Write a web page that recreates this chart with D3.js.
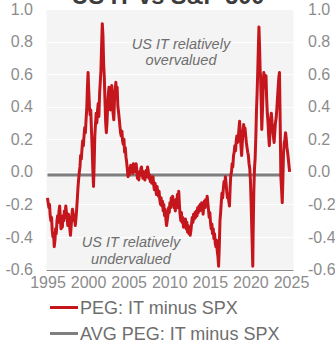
<!DOCTYPE html>
<html>
<head>
<meta charset="utf-8">
<script src="https://cdn.jsdelivr.net/npm/d3@7"></script>
<style>
  html, body { margin: 0; padding: 0; background: #fff; }
  svg { display: block; font-family: "Liberation Sans", Arial, sans-serif; }
</style>
</head>
<body>
<svg id="chart" width="335" height="349"></svg>
<script>
// PEG ratio of US IT minus PEG of the S&P 500: [fractional year, difference]
const pegPoints = [
  [1995.00,-0.16],[1995.08,-0.19],[1995.17,-0.22],[1995.25,-0.20],[1995.33,-0.27],[1995.42,-0.30],
  [1995.50,-0.28],[1995.58,-0.36],[1995.67,-0.40],[1995.75,-0.38],[1995.83,-0.46],[1995.92,-0.42],
  [1996.00,-0.35],[1996.08,-0.38],[1996.17,-0.30],[1996.25,-0.27],[1996.33,-0.31],[1996.42,-0.24],
  [1996.50,-0.21],[1996.58,-0.28],[1996.67,-0.35],[1996.75,-0.30],[1996.83,-0.34],[1996.92,-0.27],
  [1997.00,-0.30],[1997.08,-0.24],[1997.17,-0.28],[1997.25,-0.21],[1997.33,-0.25],[1997.42,-0.29],
  [1997.50,-0.33],[1997.58,-0.26],[1997.67,-0.29],[1997.75,-0.35],[1997.83,-0.39],[1997.92,-0.33],
  [1998.00,-0.27],[1998.08,-0.23],[1998.17,-0.26],[1998.25,-0.30],[1998.33,-0.27],[1998.42,-0.33],
  [1998.50,-0.29],[1998.58,-0.24],[1998.67,-0.17],[1998.75,-0.10],[1998.83,-0.05],[1998.92, 0.00],
  [1999.00, 0.03],[1999.08, 0.10],[1999.17, 0.08],[1999.25, 0.14],[1999.33, 0.19],[1999.42, 0.16],
  [1999.50, 0.22],[1999.58, 0.27],[1999.67, 0.24],[1999.75, 0.32],[1999.83, 0.38],[1999.92, 0.52],
  [2000.00, 0.61],[2000.08, 0.50],[2000.17, 0.40],[2000.25, 0.35],[2000.33, 0.38],[2000.42, 0.25],
  [2000.50, 0.15],[2000.58, 0.02],[2000.67,-0.09],[2000.75, 0.05],[2000.83, 0.22],[2000.92, 0.30],
  [2001.00, 0.36],[2001.08, 0.30],[2001.17, 0.38],[2001.25, 0.42],[2001.33, 0.34],[2001.42, 0.48],
  [2001.50, 0.55],[2001.58, 0.62],[2001.67, 0.78],[2001.75, 0.91],[2001.83, 0.84],[2001.92, 0.66],
  [2002.00, 0.58],[2002.08, 0.44],[2002.17, 0.30],[2002.25, 0.24],[2002.33, 0.30],[2002.42, 0.42],
  [2002.50, 0.48],[2002.58, 0.52],[2002.67, 0.44],[2002.75, 0.38],[2002.83, 0.47],[2002.92, 0.53],
  [2003.00, 0.45],[2003.08, 0.36],[2003.17, 0.32],[2003.25, 0.44],[2003.33, 0.50],[2003.42, 0.55],
  [2003.50, 0.48],[2003.58, 0.52],[2003.67, 0.40],[2003.75, 0.37],[2003.83, 0.33],[2003.92, 0.28],
  [2004.00, 0.24],[2004.08, 0.22],[2004.17, 0.25],[2004.25, 0.19],[2004.33, 0.17],[2004.42, 0.20],
  [2004.50, 0.12],[2004.58, 0.15],[2004.67, 0.09],[2004.75, 0.06],[2004.83, 0.02],[2004.92,-0.03],
  [2005.00, 0.01],[2005.08,-0.02],[2005.17, 0.02],[2005.25, 0.04],[2005.33, 0.00],[2005.42, 0.03],
  [2005.50,-0.01],[2005.58, 0.05],[2005.67, 0.02],[2005.75, 0.04],[2005.83, 0.00],[2005.92, 0.05],
  [2006.00, 0.01],[2006.08,-0.04],[2006.17,-0.01],[2006.25,-0.05],[2006.33, 0.00],[2006.42,-0.02],
  [2006.50, 0.02],[2006.58, 0.03],[2006.67,-0.01],[2006.75,-0.04],[2006.83, 0.00],[2006.92,-0.03],
  [2007.00,-0.05],[2007.08,-0.02],[2007.17, 0.01],[2007.25,-0.03],[2007.33, 0.03],[2007.42, 0.00],
  [2007.50,-0.04],[2007.58,-0.02],[2007.67,-0.06],[2007.75,-0.03],[2007.83,-0.07],[2007.92,-0.05],
  [2008.00,-0.03],[2008.08,-0.08],[2008.17,-0.11],[2008.25,-0.07],[2008.33,-0.10],[2008.42,-0.14],
  [2008.50,-0.09],[2008.58,-0.13],[2008.67,-0.15],[2008.75,-0.12],[2008.83,-0.17],[2008.92,-0.20],
  [2009.00,-0.16],[2009.08,-0.21],[2009.17,-0.18],[2009.25,-0.24],[2009.33,-0.20],[2009.42,-0.27],
  [2009.50,-0.23],[2009.58,-0.29],[2009.67,-0.33],[2009.75,-0.30],[2009.83,-0.27],[2009.92,-0.22],
  [2010.00,-0.25],[2010.08,-0.19],[2010.17,-0.22],[2010.25,-0.16],[2010.33,-0.20],[2010.42,-0.15],
  [2010.50,-0.18],[2010.58,-0.22],[2010.67,-0.19],[2010.75,-0.24],[2010.83,-0.17],[2010.92,-0.21],
  [2011.00,-0.14],[2011.08,-0.22],[2011.17,-0.12],[2011.25,-0.20],[2011.33,-0.26],[2011.42,-0.30],
  [2011.50,-0.25],[2011.58,-0.31],[2011.67,-0.28],[2011.75,-0.34],[2011.83,-0.30],[2011.92,-0.33],
  [2012.00,-0.29],[2012.08,-0.35],[2012.17,-0.31],[2012.25,-0.37],[2012.33,-0.33],[2012.42,-0.38],
  [2012.50,-0.34],[2012.58,-0.39],[2012.67,-0.36],[2012.75,-0.32],[2012.83,-0.28],[2012.92,-0.31],
  [2013.00,-0.26],[2013.08,-0.29],[2013.17,-0.25],[2013.25,-0.28],[2013.33,-0.24],[2013.42,-0.27],
  [2013.50,-0.22],[2013.58,-0.25],[2013.67,-0.21],[2013.75,-0.24],[2013.83,-0.20],[2013.92,-0.23],
  [2014.00,-0.19],[2014.08,-0.22],[2014.17,-0.26],[2014.25,-0.21],[2014.33,-0.18],[2014.42,-0.22],
  [2014.50,-0.17],[2014.58,-0.20],[2014.67,-0.15],[2014.75,-0.19],[2014.83,-0.23],[2014.92,-0.28],
  [2015.00,-0.25],[2015.08,-0.31],[2015.17,-0.35],[2015.25,-0.32],[2015.33,-0.38],[2015.42,-0.35],
  [2015.50,-0.41],[2015.58,-0.38],[2015.67,-0.44],[2015.75,-0.46],[2015.83,-0.42],[2015.92,-0.49],
  [2016.00,-0.52],[2016.08,-0.58],[2016.17,-0.45],[2016.25,-0.30],[2016.33,-0.25],[2016.42,-0.18],
  [2016.50,-0.13],[2016.58,-0.16],[2016.67,-0.10],[2016.75,-0.06],[2016.83,-0.09],[2016.92,-0.03],
  [2017.00,-0.07],[2017.08,-0.12],[2017.17,-0.16],[2017.25,-0.14],[2017.33,-0.18],[2017.42,-0.21],
  [2017.50,-0.10],[2017.58,-0.02],[2017.67, 0.00],[2017.75, 0.05],[2017.83, 0.03],[2017.92, 0.10],
  [2018.00, 0.12],[2018.08, 0.16],[2018.17, 0.13],[2018.25, 0.19],[2018.33, 0.22],[2018.42, 0.18],
  [2018.50, 0.20],[2018.58, 0.26],[2018.67, 0.31],[2018.75, 0.24],[2018.83, 0.16],[2018.92, 0.10],
  [2019.00, 0.18],[2019.08, 0.24],[2019.17, 0.29],[2019.25, 0.25],[2019.33, 0.27],[2019.42, 0.22],
  [2019.50, 0.18],[2019.58, 0.15],[2019.67, 0.12],[2019.75, 0.10],[2019.83, 0.05],[2019.92, 0.02],
  [2020.00,-0.05],[2020.08,-0.18],[2020.17,-0.35],[2020.25,-0.50],[2020.29,-0.58],[2020.33,-0.40],
  [2020.42,-0.12],[2020.50, 0.02],[2020.58, 0.08],[2020.67, 0.22],[2020.75, 0.38],[2020.83, 0.49],
  [2020.92, 0.65],[2021.00, 0.80],[2021.05, 0.89],[2021.12, 0.78],[2021.20, 0.62],[2021.25, 0.59],
  [2021.33, 0.42],[2021.40, 0.26],[2021.50, 0.40],[2021.58, 0.52],[2021.65, 0.61],[2021.75, 0.57],
  [2021.83, 0.52],[2021.92, 0.59],[2022.00, 0.45],[2022.08, 0.36],[2022.17, 0.30],[2022.25, 0.22],
  [2022.33, 0.16],[2022.42, 0.25],[2022.50, 0.33],[2022.58, 0.36],[2022.67, 0.30],[2022.75, 0.26],
  [2022.83, 0.22],[2022.92, 0.18],[2023.00, 0.24],[2023.08, 0.30],[2023.17, 0.33],[2023.25, 0.38],
  [2023.33, 0.45],[2023.42, 0.52],[2023.50, 0.58],[2023.58, 0.61],[2023.67, 0.30],[2023.75,-0.03],
  [2023.83,-0.10],[2023.92,-0.19],[2024.00,-0.05],[2024.08, 0.12],[2024.17, 0.18],[2024.25, 0.20],
  [2024.33, 0.24],[2024.42, 0.20],[2024.50, 0.15],[2024.58, 0.12],[2024.67, 0.08],[2024.75, 0.04],
  [2024.83, 0.00]
];
// Long-run average of the difference
const avgPoints = [[1995.0, -0.02], [2024.0, -0.02]];

const yTicks = [-0.6, -0.4, -0.2, 0.0, 0.2, 0.4, 0.6, 0.8, 1.0];
const xTicks = [1995, 2000, 2005, 2010, 2015, 2020, 2025];
const seriesNames = ["PEG: IT minus SPX", "AVG PEG: IT minus SPX"];
const seriesColors = ["#c4161c", "#7f7f7f"];
const titleText = "US IT vs S&P 500";

const svg = d3.select("#chart");
const x = d3.scaleLinear().domain([1995, 2025]).range([47.5, 291]);
const y = d3.scaleLinear().domain([-0.6, 1.0]).range([269.5, 9]);

// Plot background
svg.append("rect")
  .attr("x", 46.5).attr("y", y(1.0))
  .attr("width", 247).attr("height", y(-0.6) - y(1.0))
  .attr("fill", "#f4f4f4");

// Horizontal gridlines
svg.append("g").selectAll("line")
  .data(yTicks.filter(v => v > -0.6))
  .join("line")
  .attr("x1", 46.5).attr("x2", 293.5)
  .attr("y1", d => Math.round(y(d)) + 0.5).attr("y2", d => Math.round(y(d)) + 0.5)
  .attr("stroke", "#ffffff").attr("stroke-width", 1);

// Baseline
svg.append("line")
  .attr("x1", 46.5).attr("x2", 293.5)
  .attr("y1", Math.round(y(-0.6)) + 0.5).attr("y2", Math.round(y(-0.6)) + 0.5)
  .attr("stroke", "#8a8a8a").attr("stroke-width", 1.2);

const fmt = d => d.toFixed(1);
const styleAxis = g => {
  g.select(".domain").remove();
  g.selectAll("text")
    .attr("fill", "#8c8c8c")
    .attr("font-family", "'Liberation Sans', Arial, sans-serif")
    .style("font-size", "16px");
};

svg.append("g").attr("transform", "translate(36,0)")
  .call(d3.axisLeft(y).tickValues(yTicks).tickFormat(fmt).tickSize(0).tickPadding(3))
  .call(styleAxis);

svg.append("g").attr("transform", "translate(305,0)")
  .call(d3.axisRight(y).tickValues(yTicks).tickFormat(fmt).tickSize(0).tickPadding(3))
  .call(styleAxis);

svg.append("g").attr("transform", "translate(0,275)")
  .call(d3.axisBottom(x).tickValues(xTicks).tickFormat(d3.format("d")).tickSize(0).tickPadding(2))
  .call(styleAxis);

const line = d3.line().x(d => x(d[0])).y(d => y(d[1]));

// Average line
svg.append("path")
  .datum(avgPoints)
  .attr("fill", "none")
  .attr("stroke", seriesColors[1])
  .attr("stroke-width", 3)
  .attr("d", line);

// PEG difference line
svg.append("path")
  .datum(pegPoints)
  .attr("fill", "none")
  .attr("stroke", seriesColors[0])
  .attr("stroke-width", 3)
  .attr("stroke-linejoin", "round")
  .attr("d", line);

// Annotations
const note = (cx, lines, y0) => {
  const t = svg.append("text")
    .attr("text-anchor", "middle")
    .attr("fill", "#6e6e6e")
    .style("font-size", "14.5px")
    .style("font-style", "italic");
  lines.forEach((s, i) => t.append("tspan").attr("x", cx).attr("y", y0 + i * 16.5).text(s));
};
note(181, ["US IT relatively", "overvalued"], 48.5);
note(131, ["US IT relatively", "undervalued"], 247);

// Title (sits partly above the frame)
svg.append("text")
  .attr("x", 168).attr("y", 4)
  .attr("text-anchor", "middle")
  .attr("fill", "#3c3c3c")
  .style("font-size", "23.5px")
  .style("font-weight", "bold")
  .text(titleText);

// Legend
const legend = svg.append("g");
seriesNames.forEach((name, i) => {
  const ly = 307.5 + i * 26;
  legend.append("line")
    .attr("x1", 50).attr("x2", 78)
    .attr("y1", ly).attr("y2", ly)
    .attr("stroke", seriesColors[i]).attr("stroke-width", 3);
  legend.append("text")
    .attr("x", 80).attr("y", ly + 6)
    .attr("fill", "#6e6e6e")
    .style("font-size", "18px")
    .text(name);
});
</script>
</body>
</html>
